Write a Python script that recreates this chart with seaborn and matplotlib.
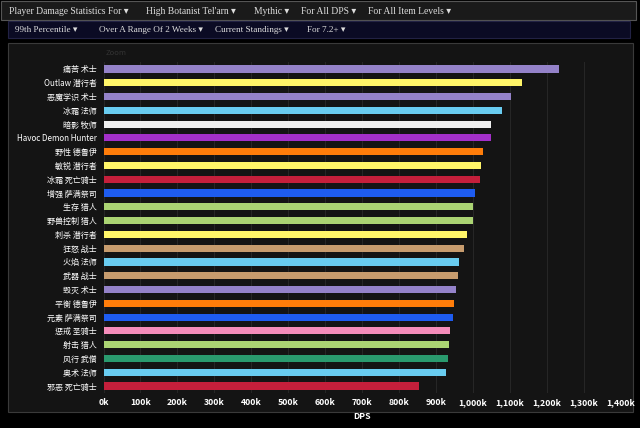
import matplotlib
matplotlib.use("Agg")
import matplotlib.pyplot as plt
import matplotlib.patches as mpatches
import seaborn as sns

# specs, top to bottom
specs = ["痛苦 术士", "Outlaw 潜行者", "恶魔学识 术士", "冰霜 法师", "暗影 牧师",
         "Havoc Demon Hunter", "野性 德鲁伊", "敏锐 潜行者", "冰霜 死亡骑士",
         "增强 萨满祭司", "生存 猎人", "野兽控制 猎人", "刺杀 潜行者", "狂怒 战士",
         "火焰 法师", "武器 战士", "毁灭 术士", "平衡 德鲁伊", "元素 萨满祭司",
         "惩戒 圣骑士", "射击 猎人", "风行 武僧", "奥术 法师", "邪恶 死亡骑士"]
dps = [1234000, 1133000, 1103000, 1080000, 1050000, 1049000, 1028000, 1023000,
       1019000, 1005000, 1000000, 1001000, 985000, 977000, 962000, 959000,
       955000, 948000, 946000, 937000, 936000, 934000, 927000, 854000]
colors = ["#9482C9", "#FFF569", "#9482C9", "#69CCF0", "#F0F0F0", "#A330C9",
          "#FF7D0A", "#FFF569", "#C41F3B", "#1E5CF0", "#ABD473", "#ABD473",
          "#FFF569", "#C79C6E", "#69CCF0", "#C79C6E", "#9482C9", "#FF7D0A",
          "#1E5CF0", "#F58CBA", "#ABD473", "#2A9A6E", "#69CCF0", "#C41F3B"]
xticks = list(range(0, 1400001, 100000))
xlabels = ["0k", "100k", "200k", "300k", "400k", "500k", "600k", "700k", "800k",
           "900k", "1,000k", "1,100k", "1,200k", "1,300k", "1,400k"]
menu1 = ["Player Damage Statistics For ▾", "High Botanist Tel'arn ▾", "Mythic ▾",
         "For All DPS ▾", "For All Item Levels ▾"]
menu1_x = [9, 146, 254, 301, 368]
menu2 = ["99th Percentile ▾", "Over A Range Of 2 Weeks ▾", "Current Standings ▾",
         "For 7.2+ ▾"]
menu2_x = [15, 99, 215, 307]

cjk = ["Noto Sans CJK SC", "DejaVu Sans"]
serif = ["Liberation Serif", "DejaVu Sans"]

fig = plt.figure(figsize=(6.4, 4.28), dpi=100, facecolor="black")
W, H = 640, 428

def px(x0, y0, x1, y1):
    return [x0 / W, 1 - y1 / H, (x1 - x0) / W, (y1 - y0) / H]

# header bars and chart panel
for box, fc, ec in [(px(1, 1, 636, 20), "#1a1a1a", "#555555"),
                    (px(8, 21, 630, 38), "#0b0b24", "#222244"),
                    (px(8, 43, 633, 412), "#141414", "#3a3a3a")]:
    fig.patches.append(mpatches.Rectangle((box[0], box[1]), box[2], box[3],
                                          transform=fig.transFigure, facecolor=fc,
                                          edgecolor=ec, linewidth=0.8, zorder=0))
for t, x in zip(menu1, menu1_x):
    fig.text(x / W, 1 - 11 / H, t, color="#dddddd", fontsize=6.9, family=serif, va="center")
for t, x in zip(menu2, menu2_x):
    fig.text(x / W, 1 - 30 / H, t, color="#dddddd", fontsize=6.6, family=serif, va="center")
fig.text(106 / W, 1 - 53 / H, "Zoom", color="#333333", fontsize=5.5, family=cjk, va="center")

ax = fig.add_axes(px(103.5, 62.1, 620.5, 392.9))
ax.set_zorder(2)
ax.set_facecolor("#141414")
sns.barplot(x=dps, y=specs, hue=specs, palette=colors, legend=False, orient="h",
            width=0.52, saturation=1, ax=ax, zorder=3)
ax.set_xlim(0, 1400000)
ax.set_ylim(len(specs) - 0.5, -0.5)
ax.set_xticks(xticks)
ax.set_xticklabels(xlabels)
ax.grid(axis="x", color="#262626", linewidth=0.8, zorder=0)
ax.set_axisbelow(True)
for s in ax.spines.values():
    s.set_visible(False)
ax.tick_params(axis="x", length=0, colors="white", pad=4)
ax.tick_params(axis="y", length=0, colors="white", pad=5)
for lbl in ax.get_xticklabels():
    lbl.set_fontfamily(cjk)
    lbl.set_fontsize(6.3)
    lbl.set_fontweight("bold")
for lbl in ax.get_yticklabels():
    lbl.set_fontfamily(cjk)
    lbl.set_fontsize(5.8)
ax.set_ylabel("")
ax.set_xlabel("DPS", color="white", fontsize=6.3, fontweight="bold", family=cjk, labelpad=3)

fig.savefig("out.png", dpi=100, facecolor="black")
